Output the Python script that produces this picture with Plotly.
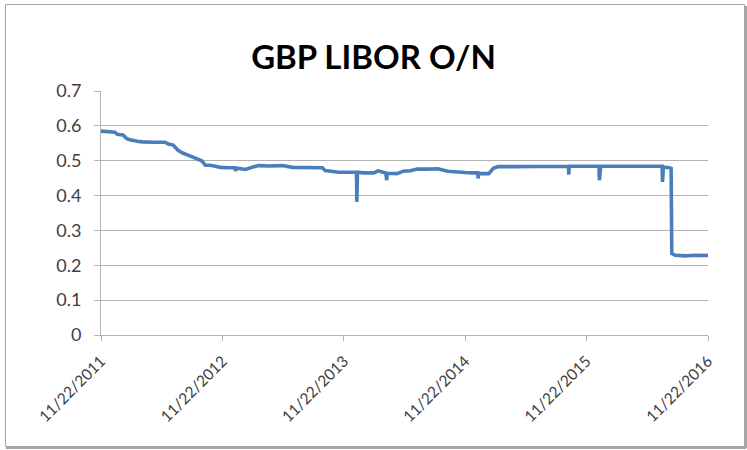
import plotly.graph_objects as go

# ---- data ----
dates = [
    "2011-11-22", "2011-12-15", "2012-01-03", "2012-01-10", "2012-01-27", "2012-02-08",
    "2012-02-17", "2012-03-10", "2012-03-25", "2012-05-01", "2012-06-02", "2012-06-12",
    "2012-06-26", "2012-07-11", "2012-07-25", "2012-08-10", "2012-08-25", "2012-09-09",
    "2012-09-20", "2012-10-01", "2012-10-15", "2012-10-31", "2012-11-15", "2012-12-09",
    "2012-12-28", "2012-12-31", "2013-01-03", "2013-01-29", "2013-02-15", "2013-03-09",
    "2013-04-10", "2013-05-21", "2013-06-20", "2013-08-01", "2013-09-18", "2013-09-27",
    "2013-10-27", "2013-11-06", "2013-12-18", "2013-12-30", "2013-12-31", "2014-01-02",
    "2014-01-20", "2014-02-20", "2014-03-05", "2014-03-28", "2014-03-31", "2014-04-01",
    "2014-05-01", "2014-05-20", "2014-06-10", "2014-07-01", "2014-08-01", "2014-09-01",
    "2014-09-30", "2014-10-20", "2014-11-22", "2014-12-15", "2014-12-30", "2014-12-31",
    "2015-01-02", "2015-02-01", "2015-02-15", "2015-03-01", "2015-05-01", "2015-07-01",
    "2015-09-29", "2015-09-30", "2015-10-01", "2015-12-30", "2015-12-31", "2016-01-04",
    "2016-03-01", "2016-05-01", "2016-07-07", "2016-07-08", "2016-07-11", "2016-07-29",
    "2016-08-03", "2016-08-05", "2016-08-15", "2016-09-15", "2016-10-15", "2016-11-22",
]
libor_on = [
    0.585, 0.583, 0.582, 0.576, 0.574, 0.563,
    0.560, 0.556, 0.554, 0.553, 0.553, 0.548,
    0.545, 0.530, 0.522, 0.516, 0.511, 0.506,
    0.500, 0.487, 0.487, 0.484, 0.481, 0.480,
    0.480, 0.471, 0.479, 0.475, 0.479, 0.486,
    0.485, 0.486, 0.481, 0.480, 0.480, 0.472,
    0.470, 0.467, 0.467, 0.467, 0.382, 0.467,
    0.465, 0.465, 0.471, 0.465, 0.444, 0.464,
    0.463, 0.470, 0.471, 0.476, 0.476, 0.477,
    0.470, 0.468, 0.466, 0.465, 0.465, 0.449,
    0.463, 0.463, 0.478, 0.483, 0.484, 0.485,
    0.484, 0.460, 0.484, 0.484, 0.444, 0.484,
    0.484, 0.485, 0.484, 0.439, 0.482, 0.480,
    0.478, 0.234, 0.229, 0.227, 0.229, 0.228,
]
tick_dates = ["2011-11-22", "2012-11-22", "2013-11-22", "2014-11-22", "2015-11-22", "2016-11-22"]
tick_labels = ["11/22/2011", "11/22/2012", "11/22/2013", "11/22/2014", "11/22/2015", "11/22/2016"]
title_text = "GBP LIBOR O/N"

W, H = 747, 450
L, R, T, B = 101, 39, 91, 115
pw, ph = W - L - R, H - T - B

def px_x(x):
    return (x - L) / pw

def px_y(y):
    return (H - B - y) / ph

fig = go.Figure()
fig.add_trace(go.Scatter(
    x=dates, y=libor_on, mode="lines",
    line=dict(color="#4A7EBB", width=3.6),
    showlegend=False,
))

grid = "#B3B3B3"
border = "#A6A6A6"
fig.update_layout(
    width=W, height=H,
    margin=dict(l=L, r=R, t=T, b=B),
    paper_bgcolor="white", plot_bgcolor="white",
    font=dict(family="Lato, Open Sans, sans-serif", size=15, color="#404040"),
    title=dict(text=title_text, x=0.5, xanchor="center", xref="container",
               y=1 - 57 / H, yanchor="middle", yref="container",
               font=dict(family="Lato, sans-serif", size=33, color="black", weight="bold")),
    xaxis=dict(
        type="date", range=[tick_dates[0], tick_dates[-1]],
        tickmode="array", tickvals=tick_dates, ticktext=tick_labels,
        tickangle=-45, showgrid=False, zeroline=False,
        showline=True, linecolor=grid, linewidth=1,
        ticks="outside", ticklen=5, tickcolor=grid,
        ticklabelstandoff=5,
        tickfont=dict(size=15.5, color="#404040"),
    ),
    yaxis=dict(
        range=[0, 0.7], dtick=0.1, tick0=0,
        showgrid=True, gridcolor=grid, gridwidth=1, zeroline=False,
        showline=True, linecolor=grid, linewidth=1,
        ticks="outside", ticklen=6, tickcolor=grid,
        ticklabelstandoff=9,
        tickfont=dict(size=18, color="#404040"),
    ),
    shapes=[
        dict(type="rect", xref="paper", yref="paper",
             x0=px_x(5.5), x1=px_x(744.5), y0=px_y(446.5), y1=px_y(4.5),
             line=dict(color=border, width=1), fillcolor="rgba(0,0,0,0)", layer="below"),
        dict(type="line", xref="paper", yref="paper",
             x0=px_x(6), x1=px_x(746), y0=px_y(448), y1=px_y(448),
             line=dict(color=border, width=2), layer="below"),
        dict(type="line", xref="paper", yref="paper",
             x0=px_x(746), x1=px_x(746), y0=px_y(6), y1=px_y(448),
             line=dict(color=border, width=2), layer="below"),
    ],
)

fig.write_html(
    "out.html",
    config={"displayModeBar": False},
    post_script="document.body.style.margin='0';document.body.style.overflow='hidden';",
)
